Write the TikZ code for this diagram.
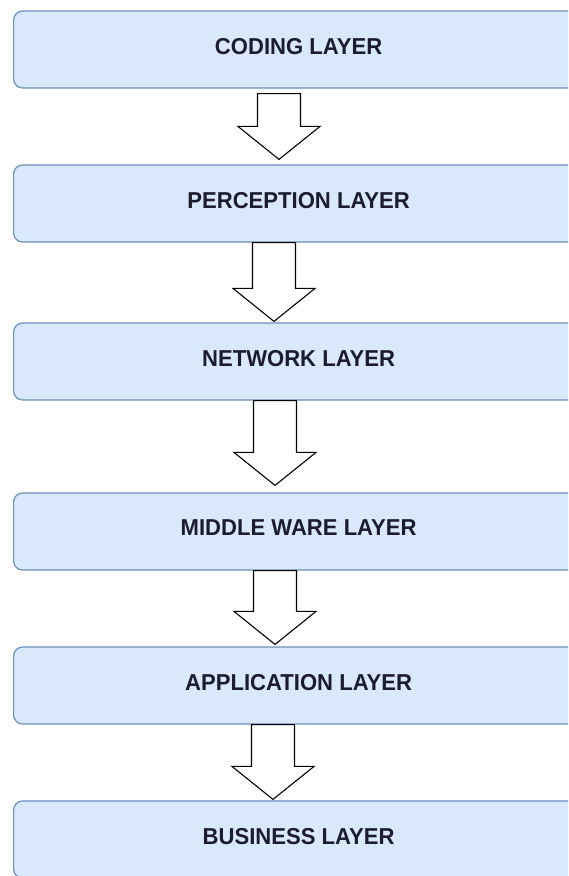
\documentclass[tikz,border=0pt]{standalone}
\usepackage{fontspec}
\setmainfont{Liberation Sans}
\newfontfamily\layerfont[FakeStretch=0.96]{Liberation Sans}
\usetikzlibrary{calc}
\definecolor{layerfill}{HTML}{DAE8FC}
\definecolor{layerline}{HTML}{6C8EBF}
\definecolor{layertext}{HTML}{1C1C2E}
\tikzset{
  layer/.style={draw=layerline, fill=layerfill, line width=1.2pt, rounded corners=9pt,
    minimum width=570pt, minimum height=77pt, text depth=7pt, anchor=west, text=layertext,
    font=\layerfont\fontsize{23}{27}\selectfont\bfseries},
  hollow/.style={draw=black, fill=white, line width=1.1pt, line join=miter},
}
\begin{document}
\begin{tikzpicture}[x=1pt, y=-1pt]
\useasboundingbox (0,0) rectangle (568,876);
\clip (0,0) rectangle (568,876);

\node[layer] (coding) at (13,49.5) {CODING LAYER};
\node[layer] (percep) at (13,203.5) {PERCEPTION LAYER};
\node[layer] (network) at (13,361.5) {NETWORK LAYER};
\node[layer] (middle) at (13,531.5) {MIDDLE WARE LAYER};
\node[layer] (appl) at (13,685.5) {APPLICATION LAYER};
\node[layer] (business) at (13,839.5) {BUSINESS LAYER};

% hollow arrows between the layers: from/to/axis x/start gap/tip gap
\foreach \a/\b/\x/\g/\h in {coding/percep/279/5/5, percep/network/274/0/1,
    network/middle/275/0/7, middle/appl/275/0/2, appl/business/273/0/1} {
  \coordinate (ax) at (\x,0);
  \draw[hollow] ($(ax |- \a.south)+(-21.5,\g)$) -- ($(ax |- \b.north)+(-21.5,-33-\h)$)
    -- ++(-19.5,0) -- ($(ax |- \b.north)+(0,-\h)$) -- ($(ax |- \b.north)+(41,-33-\h)$)
    -- ++(-19.5,0) -- ($(ax |- \a.south)+(21.5,\g)$) -- cycle;
}
\end{tikzpicture}
\end{document}
